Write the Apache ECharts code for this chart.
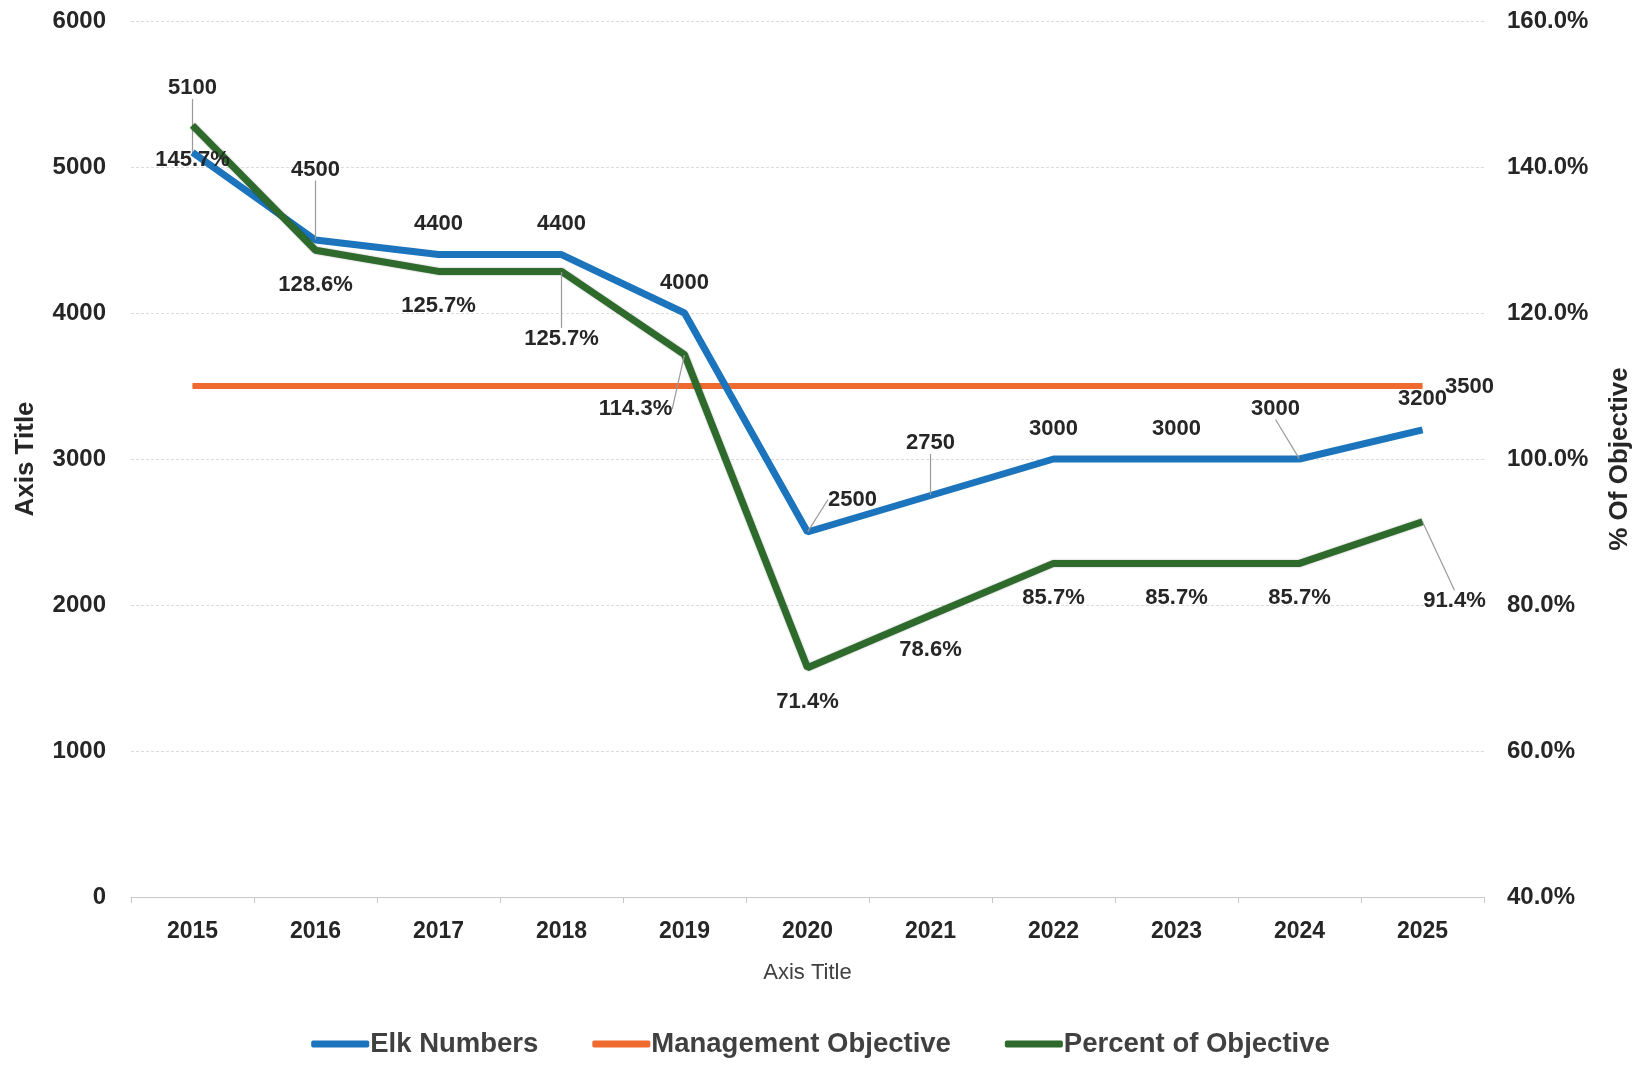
<!DOCTYPE html>
<html>
<head>
<meta charset="utf-8">
<script src="https://cdn.jsdelivr.net/npm/echarts@6/dist/echarts.min.js"></script>
<style>
html,body{margin:0;padding:0;background:#fff;}
#chart{width:1641px;height:1065px;}
</style>
</head>
<body>
<div id="chart"></div>
<script>
const years = ['2015','2016','2017','2018','2019','2020','2021','2022','2023','2024','2025'];
const elkNumbers = [5100, 4500, 4400, 4400, 4000, 2500, 2750, 3000, 3000, 3000, 3200];
const managementObjective = [3500, 3500, 3500, 3500, 3500, 3500, 3500, 3500, 3500, 3500, 3500];
const percentOfObjective = [145.7, 128.6, 125.7, 125.7, 114.3, 71.4, 78.6, 85.7, 85.7, 85.7, 91.4];

// label nudges (styling only)
const elkNudge = {0:[0,-34], 1:[0,-40], 5:[45,-2], 6:[0,-22], 9:[-24,-20]};
const pctNudge = {3:[0,33], 4:[-49,20], 10:[32,45]};

const FONT = '"Liberation Sans", Arial, sans-serif';
const BLUE = '#1C75BC', ORANGE = '#EE6A2E', GREEN = '#2D6A2B';
const leader = {show:true, lineStyle:{color:'#9a9a9a', width:1.2}};

const chart = echarts.init(document.getElementById('chart'));
chart.setOption({
  backgroundColor:'#fff',
  animation:false,
  textStyle:{fontFamily:FONT},
  grid:{left:131, right:157, top:21, bottom:168, containLabel:false},
  legend:{
    top:1025, left:'center', icon:'roundRect', itemWidth:58, itemHeight:7, itemGap:54,
    textStyle:{fontFamily:FONT, fontSize:27.5, fontWeight:'bold', color:'#404040', padding:[0,0,0,-4]},
    data:['Elk Numbers','Management Objective','Percent of Objective']
  },
  xAxis:{
    type:'category', data:years, boundaryGap:true,
    name:'Axis Title', nameLocation:'middle', nameGap:65,
    nameTextStyle:{fontFamily:FONT, fontSize:22, color:'#404040', verticalAlign:'top'},
    axisLine:{lineStyle:{color:'#c8c8c8', width:1}},
    axisTick:{show:true, length:6, lineStyle:{color:'#c8c8c8'}},
    axisLabel:{fontFamily:FONT, fontSize:23, fontWeight:'bold', color:'#262626', margin:23}
  },
  yAxis:[{
    type:'value', min:0, max:6000, interval:1000,
    name:'Axis Title', nameLocation:'middle', nameGap:92,
    nameTextStyle:{fontFamily:FONT, fontSize:26, fontWeight:'bold', color:'#262626'},
    axisLine:{show:false}, axisTick:{show:false},
    axisLabel:{fontFamily:FONT, fontSize:24, fontWeight:'bold', color:'#262626', margin:25,
      formatter:v=>String(v)},
    splitLine:{lineStyle:{color:'#dcdcdc', type:[3,2], width:1}}
  },{
    type:'value', min:40, max:160, interval:20, position:'right',
    name:'% Of Objective', nameLocation:'middle', nameGap:123,
    nameTextStyle:{fontFamily:FONT, fontSize:26, fontWeight:'bold', color:'#262626'},
    axisLine:{show:false}, axisTick:{show:false},
    axisLabel:{fontFamily:FONT, fontSize:24, fontWeight:'bold', color:'#262626', margin:23,
      formatter:v=>v.toFixed(1)+'%'},
    splitLine:{show:false}
  }],
  series:[{
    name:'Elk Numbers', type:'line', yAxisIndex:0,
    data:elkNumbers.map((v,i)=>({value:v, labelLine: elkNudge[i] ? leader : {show:false}})),
    symbol:'circle', symbolSize:1, showSymbol:true,
    itemStyle:{color:BLUE}, lineStyle:{color:BLUE, width:7},
    label:{show:true, position:'top', distance:19, fontFamily:FONT, fontSize:22, fontWeight:'bold', color:'#262626'},
    labelLayout:p=>{const n=elkNudge[p.dataIndex]; return n?{dx:n[0],dy:n[1]}:{};},
    z:3
  },{
    name:'Management Objective', type:'line', yAxisIndex:0,
    data:managementObjective.map((v,i)=>({value:v, label:{show:i===managementObjective.length-1}})),
    symbol:'circle', symbolSize:1, showSymbol:true,
    itemStyle:{color:ORANGE}, lineStyle:{color:ORANGE, width:6},
    label:{position:'right', distance:22, offset:[0,1], fontFamily:FONT, fontSize:22, fontWeight:'bold', color:'#262626'},
    z:2
  },{
    name:'Percent of Objective', type:'line', yAxisIndex:1,
    data:percentOfObjective.map((v,i)=>({value:v, labelLine: pctNudge[i] ? leader : {show:false}})),
    symbol:'circle', symbolSize:1, showSymbol:true,
    itemStyle:{color:GREEN}, lineStyle:{color:GREEN, width:7, shadowColor:'rgba(0,0,0,0.35)', shadowBlur:2},
    label:{show:true, position:'bottom', distance:23, fontFamily:FONT, fontSize:22, fontWeight:'bold', color:'#262626',
      formatter:p=>p.value.toFixed(1)+'%'},
    labelLayout:p=>{const n=pctNudge[p.dataIndex]; return n?{dx:n[0],dy:n[1]}:{};},
    z:4
  }]
});
</script>
</body>
</html>
